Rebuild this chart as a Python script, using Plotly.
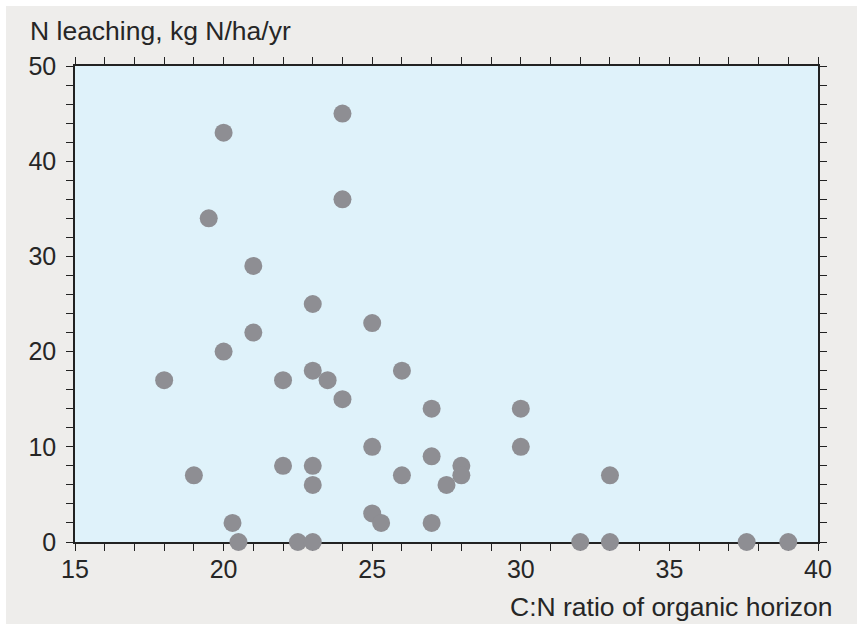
import plotly.graph_objects as go

# C:N ratio of the organic horizon vs. nitrogen leaching per site
cn_ratio = [18, 19, 19.5, 20, 20, 20.3, 20.5, 21, 21, 22, 22, 22.5, 23, 23, 23, 23, 23,
            23.5, 24, 24, 24, 25, 25, 25, 25.3, 26, 26, 27, 27, 27, 27.5, 28, 28,
            30, 30, 32, 33, 33, 37.6, 39]
n_leaching = [17, 7, 34, 43, 20, 2, 0, 29, 22, 17, 8, 0, 25, 18, 8, 6, 0,
              17, 45, 36, 15, 23, 10, 3, 2, 18, 7, 14, 9, 2, 6, 8, 7,
              14, 10, 0, 7, 0, 0, 0]

x_ticks = [15, 20, 25, 30, 35, 40]
y_ticks = [0, 10, 20, 30, 40, 50]

W, H = 857, 624
L, R, T, B = 75, 39, 66, 82
pw, ph = W - L - R, H - T - B

def px_x(p):
    return (p - L) / pw

def px_y(p):
    return (H - B - p) / ph

text_color = "#262626"
font = "Liberation Sans, Arial, sans-serif"

fig = go.Figure()
fig.add_trace(go.Scatter(
    x=cn_ratio, y=n_leaching, mode="markers",
    marker=dict(size=18, color="#8e8e93", line=dict(width=0)),
    cliponaxis=False, hoverinfo="x+y",
))

axis_common = dict(
    showgrid=False, zeroline=False, showline=True, linecolor="#222222", linewidth=1.6,
    mirror="ticks", ticks="outside", ticklen=7, tickwidth=1.4, tickcolor="#222222",
    tickfont=dict(size=25, color=text_color, family=font),
    layer="below traces",
)

fig.update_xaxes(range=[15, 40], tickvals=x_ticks, ticktext=[str(v) for v in x_ticks],
                 minor=dict(dtick=1, ticks="outside", ticklen=7, tickwidth=1.4, tickcolor="#222222"),
                 ticklabelstandoff=-3, **axis_common)
fig.update_yaxes(range=[0, 50], tickvals=y_ticks, ticktext=[str(v) for v in y_ticks],
                 minor=dict(dtick=2, ticks="outside", ticklen=7, tickwidth=1.4, tickcolor="#222222"),
                 ticklabelstandoff=5, **axis_common)

fig.update_layout(
    width=W, height=H,
    margin=dict(l=L, r=R, t=T, b=B),
    paper_bgcolor="white",
    plot_bgcolor="rgba(0,0,0,0)",
    showlegend=False,
    shapes=[
        dict(type="rect", xref="paper", yref="paper", layer="below",
             x0=px_x(6), x1=px_x(W + 2), y0=px_y(H + 2), y1=px_y(6),
             fillcolor="#eeedeb", line=dict(width=0)),
        dict(type="rect", xref="paper", yref="paper", layer="below",
             x0=0, x1=1, y0=0, y1=1,
             fillcolor="#dff2fa", line=dict(width=0)),
    ],
    annotations=[
        dict(text="N leaching, kg N/ha/yr", xref="paper", yref="paper",
             x=px_x(28), y=px_y(31), xanchor="left", yanchor="middle",
             showarrow=False, font=dict(size=26.5, color=text_color, family=font)),
        dict(text="C:N ratio of organic horizon", xref="paper", yref="paper",
             x=px_x(835), y=px_y(607), xanchor="right", yanchor="middle",
             showarrow=False, font=dict(size=26.5, color=text_color, family=font)),
    ],
)

fig.write_html("out.html")
